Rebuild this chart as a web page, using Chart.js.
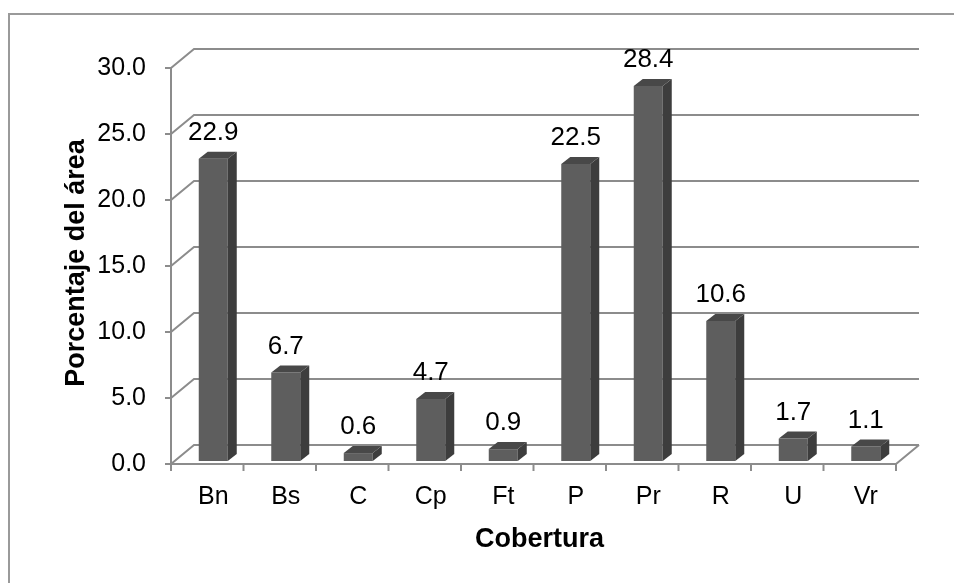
<!DOCTYPE html>
<html>
<head>
<meta charset="utf-8">
<script src="https://cdn.jsdelivr.net/npm/chart.js@4.4.0/dist/chart.umd.min.js"></script>
<style>
html, body { margin: 0; padding: 0; background: #fff; }
#wrap { width: 954px; height: 583px; position: relative; }
</style>
</head>
<body>
<div id="wrap"><canvas id="myChart"></canvas></div>
<script>
var categories = ['Bn', 'Bs', 'C', 'Cp', 'Ft', 'P', 'Pr', 'R', 'U', 'Vr'];
var values = [22.9, 6.7, 0.6, 4.7, 0.9, 22.5, 28.4, 10.6, 1.7, 1.1];
var yTicks = [0, 5, 10, 15, 20, 25, 30];

// fake 3D: chart area is the plane of the bar fronts
var FRONT_DX = -6, FRONT_DY = 3;   // front edge of the floor
var BACK_DX = 17, BACK_DY = -16;   // back wall
var DEPTH_DX = 9, DEPTH_DY = -7;   // bar depth
var FONT = 'Liberation Sans, Arial, sans-serif';
var GRID = '#8c8c8c';

var walls = {
  id: 'walls',
  beforeDraw: function(chart) {
    var ctx = chart.ctx;
    ctx.save();
    ctx.strokeStyle = '#9a9a9a';
    ctx.lineWidth = 2;
    ctx.strokeRect(9, 14, 2000, 2000);
    ctx.restore();
  },
  beforeDatasetsDraw: function(chart) {
    var ctx = chart.ctx, a = chart.chartArea, y = chart.scales.y;
    var fl = a.left + FRONT_DX, fr = a.right + FRONT_DX;
    var bl = a.left + BACK_DX, br = a.right + BACK_DX;
    ctx.save();
    ctx.strokeStyle = GRID;
    ctx.lineWidth = 2;
    yTicks.forEach(function(v) {
      var py = y.getPixelForValue(v);
      ctx.beginPath();
      ctx.moveTo(fl - 6, py + FRONT_DY);
      ctx.lineTo(fl, py + FRONT_DY);
      ctx.lineTo(bl, py + BACK_DY);
      ctx.lineTo(br, py + BACK_DY);
      ctx.stroke();
    });
    var top = y.getPixelForValue(30) + FRONT_DY;
    var bot = y.getPixelForValue(0) + FRONT_DY;
    var bot0 = y.getPixelForValue(0) + BACK_DY;
    ctx.beginPath();
    ctx.moveTo(fl, top);
    ctx.lineTo(fl, bot);
    ctx.lineTo(fr, bot);
    ctx.lineTo(br, bot0);
    ctx.stroke();
    var step = (a.right - a.left) / categories.length;
    for (var i = 0; i <= categories.length; i++) {
      var tx = fl + i * step;
      ctx.beginPath();
      ctx.moveTo(tx, bot);
      ctx.lineTo(tx, bot + 7);
      ctx.stroke();
    }
    ctx.restore();
  },
  afterDatasetsDraw: function(chart) {
    var ctx = chart.ctx;
    var meta = chart.getDatasetMeta(0);
    ctx.save();
    meta.data.forEach(function(bar, i) {
      var p = bar.getProps(['x', 'y', 'base', 'width'], true);
      var l = p.x - p.width / 2, r = p.x + p.width / 2;
      // side
      ctx.fillStyle = '#3d3d3d';
      ctx.beginPath();
      ctx.moveTo(r, p.y);
      ctx.lineTo(r + DEPTH_DX, p.y + DEPTH_DY);
      ctx.lineTo(r + DEPTH_DX, p.base + DEPTH_DY);
      ctx.lineTo(r, p.base);
      ctx.closePath();
      ctx.fill();
      // top
      ctx.fillStyle = '#484848';
      ctx.beginPath();
      ctx.moveTo(l, p.y);
      ctx.lineTo(l + DEPTH_DX, p.y + DEPTH_DY);
      ctx.lineTo(r + DEPTH_DX, p.y + DEPTH_DY);
      ctx.lineTo(r, p.y);
      ctx.closePath();
      ctx.fill();
      // value label
      ctx.fillStyle = '#000';
      ctx.font = '26px ' + FONT;
      ctx.textAlign = 'center';
      ctx.textBaseline = 'middle';
      ctx.fillText(values[i].toFixed(1), p.x, p.y - 26);
    });
    ctx.restore();
  }
};

var ctx = document.getElementById('myChart');
var chart = new Chart(ctx, {
  type: 'bar',
  data: {
    labels: categories,
    datasets: [{
      data: values,
      backgroundColor: '#5e5e5e',
      borderWidth: 0,
      barPercentage: 0.4,
      categoryPercentage: 1
    }]
  },
  options: {
    responsive: true,
    maintainAspectRatio: false,
    animation: false,
    layout: { padding: { top: 65, right: 52, left: 0, bottom: 0 } },
    plugins: {
      legend: { display: false },
      tooltip: { enabled: false }
    },
    scales: {
      x: {
        grid: { display: false, drawTicks: false },
        border: { display: false },
        ticks: { color: '#000', font: { family: FONT, size: 25 }, padding: 21 },
        title: {
          display: true, text: 'Cobertura', color: '#000',
          font: { family: FONT, size: 27, weight: 'bold' },
          padding: { top: 0, bottom: 27 }
        },
        afterFit: function(s) { s.height = 122; }
      },
      y: {
        min: 0,
        max: 30,
        grid: { display: false, drawTicks: false },
        border: { display: false },
        ticks: {
          stepSize: 5, color: '#000', padding: 31, labelOffset: 3,
          font: { family: FONT, size: 25 },
          callback: function(v) { return v.toFixed(1); }
        },
        title: {
          display: true, text: 'Porcentaje del área', color: '#000',
          font: { family: FONT, size: 27, weight: 'bold' },
          padding: { top: 60, bottom: 0 }
        },
        afterFit: function(s) { s.width = 177; }
      }
    }
  },
  plugins: [walls]
});
</script>
</body>
</html>
